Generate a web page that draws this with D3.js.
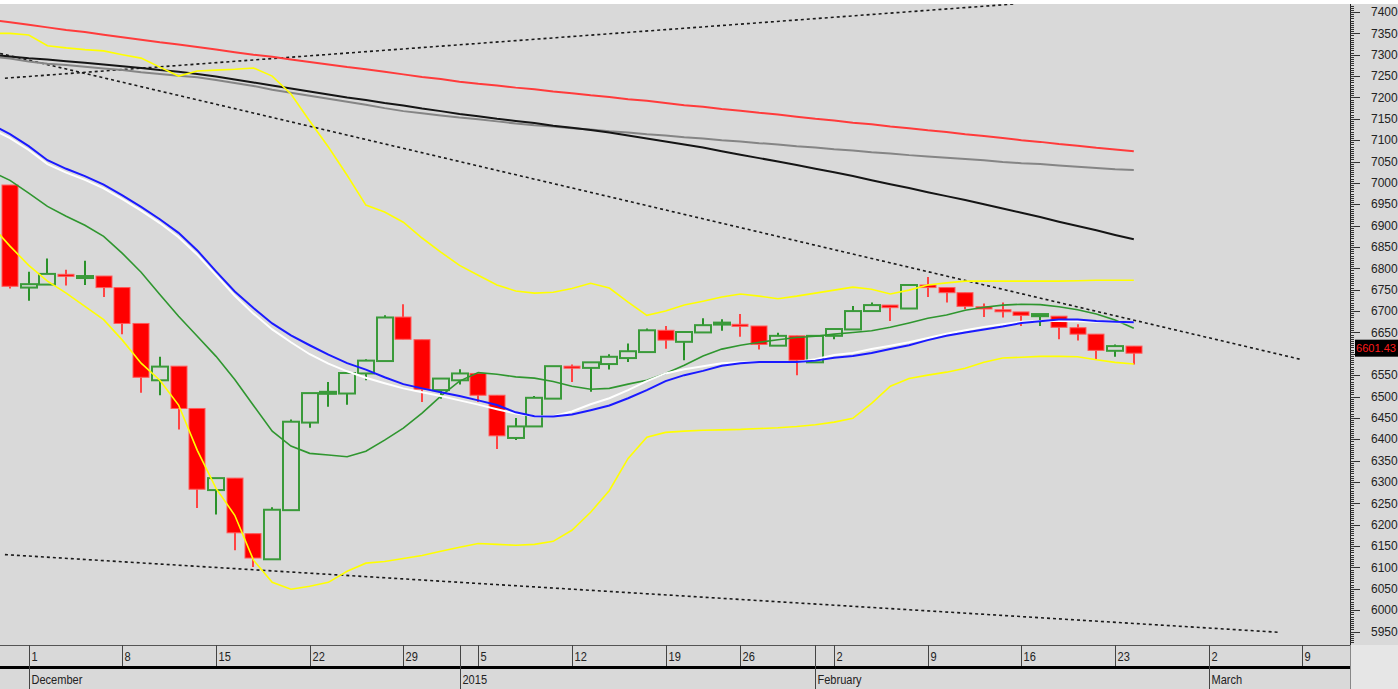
<!DOCTYPE html>
<html>
<head>
<meta charset="utf-8">
<script src="https://cdn.jsdelivr.net/npm/d3@7"></script>
<style>
  body { margin: 0; background: #fff; }
  svg { display: block; font-family: "Liberation Sans", Arial, sans-serif; }
</style>
</head>
<body>
<svg id="chart" width="1398" height="689"></svg>
<script>
// sesiones (una vela por sesion)
const dates = ["2014-11-28",
  "2014-12-01","2014-12-02","2014-12-03","2014-12-04","2014-12-05",
  "2014-12-08","2014-12-09","2014-12-10","2014-12-11","2014-12-12",
  "2014-12-15","2014-12-16","2014-12-17","2014-12-18","2014-12-19",
  "2014-12-22","2014-12-23","2014-12-24","2014-12-25","2014-12-26",
  "2014-12-29","2014-12-30","2014-12-31","2015-01-02",
  "2015-01-05","2015-01-06","2015-01-07","2015-01-08","2015-01-09",
  "2015-01-12","2015-01-13","2015-01-14","2015-01-15","2015-01-16",
  "2015-01-20","2015-01-21","2015-01-22","2015-01-23",
  "2015-01-26","2015-01-27","2015-01-28","2015-01-29","2015-01-30",
  "2015-02-02","2015-02-03","2015-02-04","2015-02-05","2015-02-06",
  "2015-02-09","2015-02-10","2015-02-11","2015-02-12","2015-02-13",
  "2015-02-16","2015-02-17","2015-02-18","2015-02-19","2015-02-20",
  "2015-02-23","2015-02-24"];

const open  = [6995,6755,6762,6786,6778,6782,6755,6671,6538,6571,6472,6281,6309,6179,6119,6234,6439,6507,6507,6554,6583,
  6686,6633,6515,6538,6554,6503,6403,6430,6495,6571,6567,6576,6590,6604,6655,6628,6650,6669,6669,6665,6619,6642,6580,
  6642,6657,6700,6714,6706,6761,6755,6743,6710,6703,6698,6688,6688,6661,6646,6607,6618];
const high  = [6995,6792,6823,6797,6818,6782,6755,6671,6593,6571,6472,6309,6309,6179,6241,6446,6508,6534,6555,6587,6690,
  6716,6633,6542,6564,6554,6503,6450,6501,6571,6575,6580,6599,6624,6659,6665,6651,6683,6681,6693,6665,6649,6642,6642,
  6658,6712,6720,6714,6761,6780,6755,6743,6718,6720,6698,6693,6688,6669,6646,6622,6618];
const low   = [6753,6724,6762,6760,6761,6733,6646,6509,6503,6423,6239,6224,6140,6101,6119,6234,6427,6476,6481,6538,6583,
  6634,6487,6495,6528,6487,6377,6398,6430,6495,6534,6511,6563,6581,6604,6612,6585,6650,6654,6640,6610,6619,6550,6580,
  6634,6657,6700,6677,6706,6733,6720,6704,6686,6685,6665,6665,6634,6631,6587,6593,6575];
const close = [6758,6763,6787,6782,6782,6755,6671,6545,6570,6472,6283,6309,6181,6122,6235,6441,6508,6511,6555,6584,6685,
  6634,6517,6542,6554,6503,6408,6430,6497,6571,6568,6580,6593,6606,6655,6632,6651,6667,6673,6666,6622,6642,6585,6642,
  6658,6700,6714,6708,6761,6755,6743,6711,6705,6700,6690,6693,6662,6646,6608,6618,6601.43];

// medias y bandas: empiezan una sesion antes (2014-11-27)
const maRed = [7382,7376,7370,7364,7358,7353,7347,7341,7335,7329,7324,7318,7312,7306,7300,7295,7289,7283,7277,7271,7266,7260,
  7254,7248,7243,7237,7232,7228,7223,7219,7214,7210,7205,7201,7196,7192,7187,7182,7178,7173,7169,7164,7160,7155,7150,
  7146,7141,7137,7132,7128,7123,7119,7114,7110,7105,7100,7096,7091,7087,7082,7078,7074];
const maGray = [7296,7291,7284,7279,7276,7272,7268,7264,7259,7255,7251,7247,7241,7234,7227,7218,7211,7204,7197,7190,7183,7175,
  7168,7163,7158,7153,7149,7144,7139,7135,7132,7128,7125,7121,7118,7114,7111,7107,7104,7100,7097,7093,7090,7086,7083,
  7079,7076,7072,7069,7065,7062,7059,7056,7053,7049,7046,7044,7041,7038,7035,7032,7030];
const maBlack = [7300,7296,7292,7289,7285,7281,7277,7273,7269,7264,7260,7255,7249,7242,7235,7228,7221,7214,7207,7200,7194,7187,
  7181,7174,7168,7161,7156,7150,7145,7140,7134,7129,7124,7118,7111,7104,7097,7090,7083,7074,7066,7058,7050,7042,7033,
  7025,7016,7006,6997,6988,6978,6969,6960,6950,6940,6930,6920,6909,6899,6889,6878,6868];
const bandUpper = [7350,7350,7346,7321,7316,7312,7309,7300,7292,7271,7250,7262,7264,7266,7269,7250,7208,7145,7084,7018,6948,6932,
  6908,6871,6838,6807,6784,6761,6747,6742,6744,6753,6765,6754,6721,6690,6700,6714,6723,6733,6740,6735,6729,6735,6742,
  6749,6756,6751,6740,6749,6761,6766,6770,6770,6770,6770,6770,6770,6771,6772,6772,6772];
const bandLower = [6901,6852,6807,6770,6742,6711,6680,6632,6578,6538,6480,6374,6285,6222,6117,6065,6049,6056,6065,6091,6110,6114,
  6121,6128,6138,6147,6156,6154,6152,6154,6161,6187,6229,6280,6355,6405,6416,6419,6421,6422,6423,6425,6427,6430,6434,
  6440,6449,6484,6524,6542,6550,6557,6566,6580,6590,6592,6594,6594,6593,6586,6580,6576];
const maGreen = [7027,7006,6976,6945,6922,6901,6875,6835,6791,6739,6688,6641,6594,6540,6479,6419,6384,6367,6363,6359,6372,6398,
  6426,6461,6501,6536,6556,6552,6546,6543,6535,6524,6517,6519,6529,6538,6554,6573,6595,6611,6620,6627,6633,6638,6641,
  6646,6650,6654,6662,6672,6683,6691,6702,6709,6714,6716,6715,6710,6703,6693,6679,6660];
const maWhite = [7127,7105,7077,7044,7024,7007,6987,6962,6935,6906,6873,6832,6784,6736,6694,6657,6627,6599,6577,6559,6544,6531,
  6519,6510,6501,6491,6481,6470,6460,6454,6454,6465,6482,6496,6515,6536,6554,6564,6571,6578,6580,6581,6581,6581,6587,
  6597,6602,6611,6619,6627,6637,6647,6655,6663,6669,6675,6677,6677,6676,6675,6674,6674];
const maBlue = [7137,7114,7086,7053,7033,7016,6996,6971,6944,6915,6883,6842,6793,6746,6707,6671,6643,6620,6598,6578,6563,6545,
  6529,6519,6510,6501,6491,6480,6463,6454,6453,6458,6468,6479,6496,6515,6536,6550,6560,6572,6578,6581,6581,6581,6584,
  6591,6595,6602,6611,6620,6632,6642,6650,6657,6664,6672,6676,6680,6680,6677,6675,6674];

// lineas de tendencia: [sesion, valor]
const trendUp   = [[-0.27, 7245], [53.7, 7419]];
const trendDown = [[-0.53, 7303], [68.9, 6587]];
const trendLow  = [[-0.27, 6130], [67.8, 5948]];

// eje x
const weekLabels = ["1","8","15","22","29","5","12","19","26","2","9","16","23","2","9"];
const weekIdx    = [1, 6, 11, 16, 21, 25, 30, 35, 39, 44, 49, 54, 59, 64, 69];
const monthLabels = ["December","2015","February","March"];
const monthIdx    = [1, 24, 43, 64];

const W = 1398, H = 689;
const plotR = 1350, plotT = 4, plotB = 645;
const bg = "#d9d9d9";

const svg = d3.select("#chart");
const x = d3.scaleLinear().domain([0, 60]).range([10, 1133.8]);
const y = d3.scaleLinear().domain([5950, 7400]).range([631.5, 12]);

svg.append("rect").attr("width", W).attr("height", H).attr("fill", bg);
svg.append("rect").attr("width", W).attr("height", plotT).attr("fill", "#fff");

svg.append("clipPath").attr("id", "clip")
  .append("rect").attr("x", 0).attr("y", plotT).attr("width", plotR).attr("height", plotB - plotT);
const plot = svg.append("g").attr("clip-path", "url(#clip)");

// velas
const bodyW = 16;
const candles = plot.selectAll("g.c").data(dates).enter().append("g");
candles.each(function(d, i) {
  const g = d3.select(this);
  const up = close[i] >= open[i];
  const cx = Math.round(x(i));
  const top = y(Math.max(open[i], close[i]));
  const bot = y(Math.min(open[i], close[i]));
  const h = Math.max(2, bot - top);
  g.append("line")
    .attr("x1", cx).attr("x2", cx)
    .attr("y1", y(high[i])).attr("y2", y(low[i]))
    .attr("stroke", up ? "#2a922a" : "#ff4444").attr("stroke-width", 2);
  if (up) {
    g.append("rect")
      .attr("x", cx - bodyW / 2).attr("y", top).attr("width", bodyW).attr("height", h)
      .attr("fill", h <= 3 ? "#1e8a1e" : bg).attr("stroke", "#3a9a3a").attr("stroke-width", 2);
  } else {
    g.append("rect")
      .attr("x", cx - bodyW / 2).attr("y", top).attr("width", bodyW).attr("height", h)
      .attr("fill", "#ff0000").attr("stroke", "#ff5a5a").attr("stroke-width", 1);
  }
});

// lineas de tendencia punteadas
const tl = d3.line().x(d => x(d[0])).y(d => y(d[1]));
[trendUp, trendDown, trendLow].forEach(t => {
  plot.append("path").attr("d", tl(t))
    .attr("fill", "none").attr("stroke", "#1a1a1a")
    .attr("stroke-width", 1.6).attr("stroke-dasharray", "3,3");
});

// medias moviles
const ml = d3.line().x((d, k) => x(k - 1)).y(d => y(d));
const series = [
  [maRed, "#ff3b3b", 2],
  [maGray, "#858585", 2],
  [maBlack, "#151515", 2],
  [bandUpper, "#ffff00", 1.6],
  [bandLower, "#ffff00", 1.6],
  [maGreen, "#2f962f", 1.6],
  [maWhite, "#ffffff", 2],
  [maBlue, "#1a1aff", 2]
];
series.forEach(s => {
  plot.append("path").attr("d", ml(s[0]))
    .attr("fill", "none").attr("stroke", s[1]).attr("stroke-width", s[2]);
});

// eje y (derecha)
const last = close[close.length - 1];
const ly = y(last) - 5;

const ax = svg.append("g");
ax.append("line").attr("x1", plotR + 0.5).attr("x2", plotR + 0.5)
  .attr("y1", plotT).attr("y2", plotB).attr("stroke", "#222");
const vTop = y.invert(plotT + 1), vBot = y.invert(plotB - 1);
d3.range(Math.ceil(vBot / 5) * 5, vTop, 5).forEach(v => {
  const major = v % 50 === 0;
  ax.append("line")
    .attr("x1", plotR).attr("x2", plotR + (major ? 10 : 4))
    .attr("y1", Math.round(y(v)) + 0.5).attr("y2", Math.round(y(v)) + 0.5)
    .attr("stroke", "#333").attr("stroke-width", 1);
});
// la etiqueta que queda bajo el recuadro del precio no se ve
const yLabels = d3.range(5950, 7401, 50).filter(v => Math.abs(y(v) - ly) > 12);
ax.selectAll("text.yl").data(yLabels).enter().append("text")
  .attr("x", 1371).attr("y", d => y(d)).attr("dy", "0.35em")
  .attr("font-size", 12).attr("fill", "#222").text(d => d);

// etiqueta de ultimo precio
ax.append("rect").attr("x", 1355).attr("y", ly - 8.5).attr("width", 43).attr("height", 17).attr("fill", "#000");
ax.append("text").attr("x", 1356).attr("y", ly).attr("dy", "0.36em")
  .attr("font-size", 11.5).attr("textLength", 40).attr("lengthAdjust", "spacingAndGlyphs")
  .attr("fill", "#ff1a1a").text(last.toFixed(2));

// eje x (abajo)
const xa = svg.append("g");
xa.append("rect").attr("x", plotR).attr("y", plotB).attr("width", W - plotR).attr("height", H - plotB).attr("fill", "#e6e6e6");
xa.append("line").attr("x1", 0).attr("x2", plotR).attr("y1", plotB + 0.5).attr("y2", plotB + 0.5).attr("stroke", "#555");
xa.append("line").attr("x1", 0).attr("x2", plotR).attr("y1", 667.5).attr("y2", 667.5).attr("stroke", "#000").attr("stroke-width", 3);
xa.append("line").attr("x1", plotR + 0.5).attr("x2", plotR + 0.5).attr("y1", plotB).attr("y2", H).attr("stroke", "#888");

weekIdx.forEach((k, j) => {
  const px = Math.round(x(k)) + 0.5;
  xa.append("line").attr("x1", px).attr("x2", px).attr("y1", plotB).attr("y2", 666)
    .attr("stroke", "#444");
  xa.append("text").attr("x", px + 2).attr("y", 661).attr("font-size", 13).attr("fill", "#222")
    .attr("transform", `translate(${px + 2},0) scale(0.85,1) translate(${-(px + 2)},0)`)
    .text(weekLabels[j]);
});
monthIdx.forEach((k, j) => {
  const px = Math.round(x(k)) + 0.5;
  xa.append("line").attr("x1", px).attr("x2", px).attr("y1", plotB).attr("y2", H)
    .attr("stroke", "#444");
  xa.append("text").attr("x", px + 2).attr("y", 684).attr("font-size", 13).attr("fill", "#222")
    .attr("transform", `translate(${px + 2},0) scale(0.85,1) translate(${-(px + 2)},0)`)
    .text(monthLabels[j]);
});
</script>
</body>
</html>
